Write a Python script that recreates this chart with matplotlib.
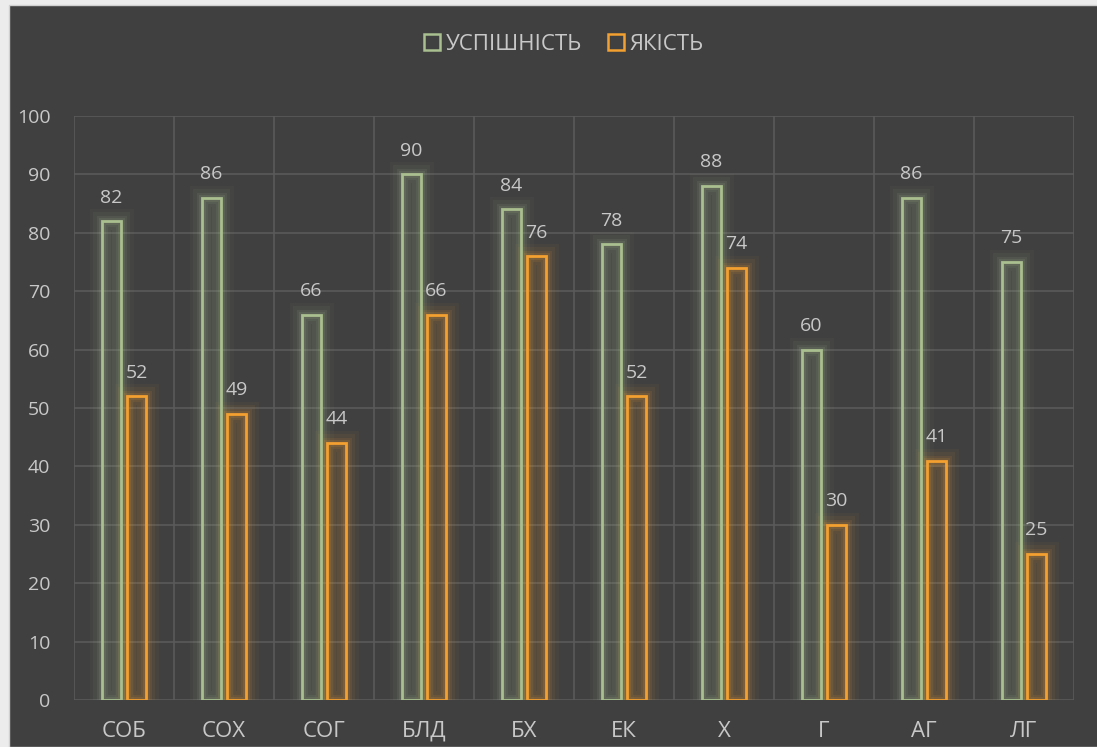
import numpy as np
import matplotlib.pyplot as plt
from matplotlib.patches import Patch, Rectangle

categories = ['СОБ', 'СОХ', 'СОГ', 'БЛД', 'БХ', 'ЕК', 'Х', 'Г', 'АГ', 'ЛГ']
uspishnist = [82, 86, 66, 90, 84, 78, 88, 60, 86, 75]
yakist = [52, 49, 44, 66, 76, 52, 74, 30, 41, 25]

bg = '#404040'
green = '#a9bf8f'
orange = '#f4a030'
txt = '#c8c8c8'

plt.rcParams['font.family'] = ['Open Sans', 'DejaVu Sans']

fig = plt.figure(figsize=(10.97, 7.47), dpi=100, facecolor='#ececec')
# dark chart area, leaves a thin light strip at left and top
fig.patches.append(Rectangle((9/1097, 0), 1, 1 - 5/747, transform=fig.transFigure,
                             facecolor=bg, edgecolor='#d0d0d0', linewidth=1, zorder=-10))
ax = fig.add_axes([74/1097, 1-700/747, 1000/1097, 584/747], facecolor=bg)

x = np.arange(len(categories))
w = 0.19
off = 0.125

def glow_bars(xs, vals, col):
    # soft glow: a few wider translucent outlines
    for lw, a in [(18, 0.04), (13, 0.06), (8, 0.09), (5, 0.12)]:
        ax.bar(xs, vals, w, facecolor='none', edgecolor=col, linewidth=lw, alpha=a, zorder=2)
    ax.bar(xs, vals, w, facecolor=col, alpha=0.08, linewidth=0, zorder=3)
    ax.bar(xs, vals, w, facecolor='none', edgecolor=col, linewidth=2, zorder=4)

glow_bars(x - off, uspishnist, green)
glow_bars(x + off, yakist, orange)

for xi, v in zip(x - off, uspishnist):
    ax.text(xi, v + 2.5, str(v), ha='center', va='bottom', color=txt, fontsize=14)
for xi, v in zip(x + off, yakist):
    ax.text(xi, v + 2.5, str(v), ha='center', va='bottom', color=txt, fontsize=14)

ax.set_xlim(-0.5, len(categories) - 0.5)
ax.set_ylim(0, 100)
ax.set_yticks(range(0, 101, 10))
ax.set_xticks(x)
ax.set_xticklabels(categories)
ax.set_xticks(np.arange(-0.5, len(categories)), minor=True)
ax.grid(True, which='major', axis='y', color='#5a5a5a', linewidth=1.2, zorder=0)
ax.grid(True, which='minor', axis='x', color='#5a5a5a', linewidth=1.2, zorder=0)
ax.set_axisbelow(True)
ax.tick_params(axis='both', which='both', length=0, colors=txt)
ax.tick_params(axis='y', pad=17, labelsize=14)
ax.tick_params(axis='x', pad=15, labelsize=16)
for s in ax.spines.values():
    s.set_visible(False)

handles = [Patch(facecolor='none', edgecolor=green, linewidth=1.8, label='УСПІШНІСТЬ'),
           Patch(facecolor='none', edgecolor=orange, linewidth=1.8, label='ЯКІСТЬ')]
fig.legend(handles=handles, loc='center', bbox_to_anchor=(0.514, 1-44/747), ncol=2,
           frameon=False, fontsize=16, labelcolor=txt, handlelength=0.7, handleheight=0.7,
           handletextpad=0.25, columnspacing=1.2)

fig.savefig('out.png', dpi=100, facecolor=fig.get_facecolor())
